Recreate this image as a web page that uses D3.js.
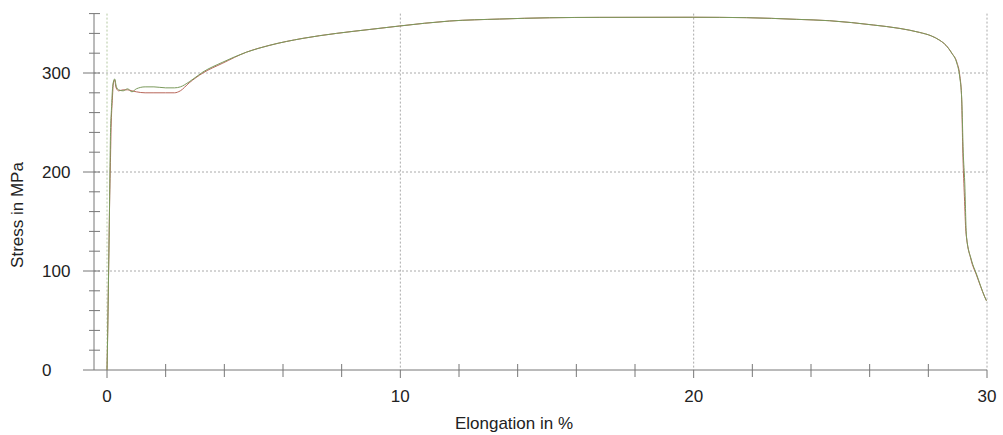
<!DOCTYPE html>
<html>
<head>
<meta charset="utf-8">
<script src="https://cdn.jsdelivr.net/npm/d3@7"></script>
<style>
  body{margin:0;background:#fff;}
  text{font-family:"Liberation Sans",Arial,sans-serif;fill:#222;}
</style>
</head>
<body>
<div id="chart"></div>
<script>
//data: elongation in %, stress in MPa

var strainGreen=[0,0.02,0.05,0.08,0.1,0.12,0.15,0.2,0.26,0.32,0.4,0.55,0.7,0.85,1.0,1.3,1.6,2.0,2.3,2.5,2.8,3.27,3.95,4.75,5.55,6.68,7.82,8.96,9.98,11.68,13.39,15.09,16.8,19.97,21.8,23.5,24.64,26.12,27.03,27.7,28.1,28.39,28.6,28.8,28.97,29.07,29.14,29.19,29.24,29.3,29.47,29.64,29.92,29.98];
var stressGreen=[0,30,90,150,200,240,262,288,294,286,283,282,284,281,284,286,286,285,285,286,291,301,311,321,328,335,340,344,347.5,352.5,354.5,355.8,356.2,356.3,355.9,354.2,352.8,348.5,345,341,337.5,333,328,320,310,296,273,220,190,135,111,97,74,70];

var strainRed=[0,0.03,0.06,0.09,0.12,0.14,0.18,0.22,0.26,0.31,0.4,0.55,0.7,0.85,1.0,1.3,1.6,2.0,2.3,2.5,2.8,3.27,3.95,4.75,5.55,6.68,7.82,8.96,9.98,11.68,13.39,15.09,16.8,19.97,21.8,23.5,24.64,26.12,27.03,27.7,28.1,28.39,28.6,28.8,28.97,29.07,29.13,29.18,29.23,29.28,29.45,29.64,29.92,29.98];
var stressRed=[0,50,110,170,215,245,272,290,293,285,282,283,283,282,281,280,280,280,280,282,290,300,310,321,328,335,340,344,347.5,352.5,354.5,355.8,356.2,356.3,355.9,354.2,352.8,348.5,345,341,337.5,333,328,320,311,298,278,215,175,140,112,96,74,70];

var xTicks=[0,10,20,30];
var yTicks=[0,100,200,300];
var xMinor=[2,4,6,8,12,14,16,18,22,24,26,28];
var yMinor=[20,40,60,80,120,140,160,180,220,240,260,280,320,340,360];

//setup svg
var width=1003, height=435;
var svg=d3.select("#chart").append("svg")
          .attr("width",width)
          .attr("height",height);

//scales
var xScale=d3.scaleLinear().domain([0,30]).range([107,987]);
var yScale=d3.scaleLinear().domain([0,360]).range([370,13.6]);
var axisX=94;   // y axis line sits a bit left of elongation 0

//grid
var grid=svg.append("g").attr("class","grid");
grid.selectAll("line.gy")
    .data(yTicks.slice(1))
    .enter()
    .append("line")
    .attr("x1",axisX)
    .attr("x2",xScale(30))
    .attr("y1",function(d){return yScale(d)})
    .attr("y2",function(d){return yScale(d)})
    .style("stroke","#aaa")
    .style("stroke-width",1)
    .style("stroke-dasharray","2,2");
grid.selectAll("line.gx")
    .data(xTicks)
    .enter()
    .append("line")
    .attr("x1",function(d){return xScale(d)})
    .attr("x2",function(d){return xScale(d)})
    .attr("y1",yScale(360))
    .attr("y2",yScale(0))
    .style("stroke",function(d){return d==0?"#b5c9a2":"#aaa"})
    .style("stroke-width",1)
    .style("stroke-dasharray","2,2");

//axes
var axes=svg.append("g").attr("class","axes");
axes.append("line")
    .attr("x1",axisX).attr("x2",axisX)
    .attr("y1",yScale(360)).attr("y2",yScale(0))
    .style("stroke","#777");
axes.append("line")
    .attr("x1",axisX-11).attr("x2",xScale(30))
    .attr("y1",yScale(0)).attr("y2",yScale(0))
    .style("stroke","#777");

axes.selectAll("line.ym")
    .data(yMinor)
    .enter()
    .append("line")
    .attr("x1",axisX-5).attr("x2",axisX+6)
    .attr("y1",function(d){return yScale(d)})
    .attr("y2",function(d){return yScale(d)})
    .style("stroke","#777");
axes.selectAll("line.yM")
    .data(yTicks.slice(1))
    .enter()
    .append("line")
    .attr("x1",axisX-11).attr("x2",axisX+6)
    .attr("y1",function(d){return yScale(d)})
    .attr("y2",function(d){return yScale(d)})
    .style("stroke","#777");

axes.selectAll("line.xm")
    .data(xMinor)
    .enter()
    .append("line")
    .attr("x1",function(d){return xScale(d)})
    .attr("x2",function(d){return xScale(d)})
    .attr("y1",yScale(0)-6).attr("y2",yScale(0)+7)
    .style("stroke","#777");
axes.selectAll("line.xM")
    .data(xTicks)
    .enter()
    .append("line")
    .attr("x1",function(d){return xScale(d)})
    .attr("x2",function(d){return xScale(d)})
    .attr("y1",yScale(0)).attr("y2",yScale(0)+8)
    .style("stroke","#777");

//tick labels
axes.selectAll("text.xl")
    .data(xTicks)
    .enter()
    .append("text")
    .attr("x",function(d){return xScale(d)})
    .attr("y",yScale(0)+32)
    .attr("text-anchor","middle")
    .style("font-size","17px")
    .text(function(d){return d});
axes.selectAll("text.yl")
    .data(yTicks)
    .enter()
    .append("text")
    .attr("x",42)
    .attr("y",function(d){return yScale(d)+6})
    .style("font-size","17px")
    .text(function(d){return d});

//axis titles
svg.append("text")
    .attr("x",514)
    .attr("y",429)
    .attr("text-anchor","middle")
    .style("font-size","17px")
    .text("Elongation in %");
svg.append("text")
    .attr("transform","translate(23,215) rotate(-90)")
    .attr("text-anchor","middle")
    .style("font-size","17px")
    .text("Stress in MPa");

//curves
var line=d3.line()
    .curve(d3.curveMonotoneX)
    .x(function(d){return xScale(d[0])})
    .y(function(d){return yScale(d[1])});

svg.append("path")
    .datum(d3.zip(strainRed,stressRed))
    .attr("d",line)
    .style("fill","none")
    .style("stroke","#b8675a")
    .style("stroke-width",1);
svg.append("path")
    .datum(d3.zip(strainGreen,stressGreen))
    .attr("d",line)
    .style("fill","none")
    .style("stroke","#7b9a5c")
    .style("stroke-width",1);
</script>
</body>
</html>
